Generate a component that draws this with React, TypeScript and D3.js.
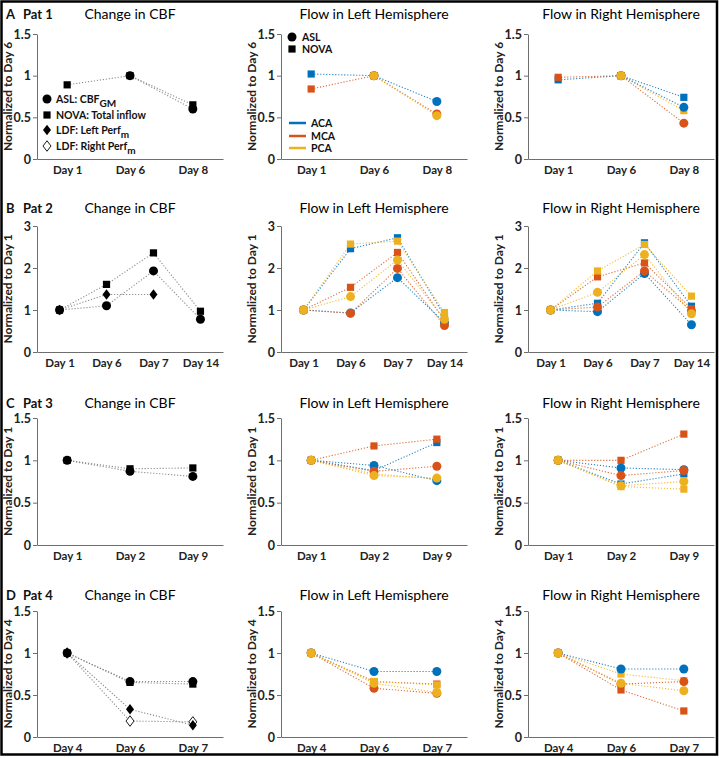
import { useEffect, useRef } from "react";
import * as d3 from "d3";

type Val = number | null;
type Marker = "circle" | "square" | "diamond" | "diamondOpen";

// vessel colours: ACA, MCA, PCA
const vesselNames = ["ACA", "MCA", "PCA"];
const vesselColors = ["#0072BD", "#D95319", "#EDB120"];

// Pat 1, normalized to Day 6
const pat1Days = ["Day 1", "Day 6", "Day 8"];
const pat1CbfNova: Val[] = [0.89, 1, 0.65];
const pat1CbfAsl: Val[] = [null, 1, 0.6];
const pat1LeftNova: Val[][] = [[1.02, 1, null], [0.84, 1, null], [null, 1, null]];
const pat1LeftAsl: Val[][] = [[null, 1, 0.69], [null, 1, 0.54], [null, 1, 0.52]];
const pat1RightNova: Val[][] = [[0.95, 1, 0.74], [0.98, 1, null], [null, 1, 0.58]];
const pat1RightAsl: Val[][] = [[null, 1, 0.62], [null, 1, 0.43], [null, 1, null]];

// Pat 2, normalized to Day 1
const pat2Days = ["Day 1", "Day 6", "Day 7", "Day 14"];
const pat2CbfNova: Val[] = [1, 1.61, 2.36, 0.97];
const pat2CbfAsl: Val[] = [1, 1.1, 1.93, 0.78];
const pat2CbfLdfLeft: Val[] = [1, 1.37, 1.37, null];
const pat2LeftNova: Val[][] = [[1, 2.46, 2.72, 0.86], [1, 1.54, 2.37, 0.75], [1, 2.57, 2.64, 0.94]];
const pat2LeftAsl: Val[][] = [[1, 0.93, 1.77, 0.7], [1, 0.92, 1.99, 0.63], [1, 1.32, 2.19, 0.78]];
const pat2RightNova: Val[][] = [[1, 1.16, 2.6, 1.09], [1, 1.79, 2.12, 1.03], [1, 1.93, 2.56, 1.33]];
const pat2RightAsl: Val[][] = [[1, 0.96, 1.87, 0.65], [1, 1.07, 1.93, 0.98], [1, 1.42, 2.32, 0.91]];

// Pat 3, normalized to Day 1
const pat3Days = ["Day 1", "Day 2", "Day 9"];
const pat3CbfNova: Val[] = [1, 0.9, 0.91];
const pat3CbfAsl: Val[] = [1, 0.87, 0.81];
const pat3LeftNova: Val[][] = [[1, 0.88, 1.21], [1, 1.17, 1.25], [1, 0.84, 0.78]];
const pat3LeftAsl: Val[][] = [[1, 0.94, 0.76], [1, 0.87, 0.93], [1, 0.82, 0.79]];
const pat3RightNova: Val[][] = [[1, 0.72, 0.84], [1, 1.0, 1.31], [1, 0.69, 0.66]];
const pat3RightAsl: Val[][] = [[1, 0.91, 0.89], [1, 0.82, 0.88], [1, 0.7, 0.75]];

// Pat 4, normalized to Day 4
const pat4Days = ["Day 4", "Day 6", "Day 7"];
const pat4CbfNova: Val[] = [1, 0.65, 0.63];
const pat4CbfAsl: Val[] = [1, 0.66, 0.66];
const pat4CbfLdfLeft: Val[] = [1, 0.33, 0.14];
const pat4CbfLdfRight: Val[] = [1, 0.19, 0.18];
const pat4LeftNova: Val[][] = [[null, null, null], [1, 0.66, 0.63], [1, 0.66, 0.62]];
const pat4LeftAsl: Val[][] = [[1, 0.78, 0.78], [1, 0.58, 0.52], [1, 0.64, 0.53]];
const pat4RightNova: Val[][] = [[null, null, null], [1, 0.56, 0.31], [1, 0.75, 0.67]];
const pat4RightAsl: Val[][] = [[1, 0.81, 0.81], [1, 0.63, 0.66], [1, 0.64, 0.55]];

const ticks15 = [0, 0.5, 1, 1.5];
const ticks3 = [0, 1, 2, 3];

interface Series {
    values: Val[];
    color: string;
    lineColor: string;
    marker: Marker;
}

interface Panel {
    row: number;
    col: number;
    title: string;
    days: string[];
    yMax: number;
    yTicks: number[];
    yLabel: string;
    series: Series[];
    tag?: [string, string];
}

const FONT = "Lato, 'Open Sans', sans-serif";

const cbfSeries = (nova: Val[], asl: Val[], ldfL?: Val[], ldfR?: Val[]): Series[] => {
    const s: Series[] = [
        { values: nova, color: "#000", lineColor: "#7a7a7a", marker: "square" },
        { values: asl, color: "#000", lineColor: "#7a7a7a", marker: "circle" },
    ];
    if (ldfL) s.push({ values: ldfL, color: "#000", lineColor: "#7a7a7a", marker: "diamond" });
    if (ldfR) s.push({ values: ldfR, color: "#000", lineColor: "#7a7a7a", marker: "diamondOpen" });
    return s;
};

const vesselSeries = (nova: Val[][], asl: Val[][]): Series[] => [
    ...nova.map((v, i) => ({ values: v, color: vesselColors[i], lineColor: vesselColors[i], marker: "square" as Marker })),
    ...asl.map((v, i) => ({ values: v, color: vesselColors[i], lineColor: vesselColors[i], marker: "circle" as Marker })),
];

const panels: Panel[] = [
    { row: 0, col: 0, title: "Change in CBF", days: pat1Days, yMax: 1.5, yTicks: ticks15, yLabel: "Normalized to Day 6", series: cbfSeries(pat1CbfNova, pat1CbfAsl), tag: ["A", "Pat 1"] },
    { row: 0, col: 1, title: "Flow in Left Hemisphere", days: pat1Days, yMax: 1.5, yTicks: ticks15, yLabel: "Normalized to Day 6", series: vesselSeries(pat1LeftNova, pat1LeftAsl) },
    { row: 0, col: 2, title: "Flow in Right Hemisphere", days: pat1Days, yMax: 1.5, yTicks: ticks15, yLabel: "Normalized to Day 6", series: vesselSeries(pat1RightNova, pat1RightAsl) },
    { row: 1, col: 0, title: "Change in CBF", days: pat2Days, yMax: 3, yTicks: ticks3, yLabel: "Normalized to Day 1", series: cbfSeries(pat2CbfNova, pat2CbfAsl, pat2CbfLdfLeft), tag: ["B", "Pat 2"] },
    { row: 1, col: 1, title: "Flow in Left Hemisphere", days: pat2Days, yMax: 3, yTicks: ticks3, yLabel: "Normalized to Day 1", series: vesselSeries(pat2LeftNova, pat2LeftAsl) },
    { row: 1, col: 2, title: "Flow in Right Hemisphere", days: pat2Days, yMax: 3, yTicks: ticks3, yLabel: "Normalized to Day 1", series: vesselSeries(pat2RightNova, pat2RightAsl) },
    { row: 2, col: 0, title: "Change in CBF", days: pat3Days, yMax: 1.5, yTicks: ticks15, yLabel: "Normalized to Day 1", series: cbfSeries(pat3CbfNova, pat3CbfAsl), tag: ["C", "Pat 3"] },
    { row: 2, col: 1, title: "Flow in Left Hemisphere", days: pat3Days, yMax: 1.5, yTicks: ticks15, yLabel: "Normalized to Day 1", series: vesselSeries(pat3LeftNova, pat3LeftAsl) },
    { row: 2, col: 2, title: "Flow in Right Hemisphere", days: pat3Days, yMax: 1.5, yTicks: ticks15, yLabel: "Normalized to Day 1", series: vesselSeries(pat3RightNova, pat3RightAsl) },
    { row: 3, col: 0, title: "Change in CBF", days: pat4Days, yMax: 1.5, yTicks: ticks15, yLabel: "Normalized to Day 4", series: cbfSeries(pat4CbfNova, pat4CbfAsl, pat4CbfLdfLeft, pat4CbfLdfRight), tag: ["D", "Pat 4"] },
    { row: 3, col: 1, title: "Flow in Left Hemisphere", days: pat4Days, yMax: 1.5, yTicks: ticks15, yLabel: "Normalized to Day 4", series: vesselSeries(pat4LeftNova, pat4LeftAsl) },
    { row: 3, col: 2, title: "Flow in Right Hemisphere", days: pat4Days, yMax: 1.5, yTicks: ticks15, yLabel: "Normalized to Day 4", series: vesselSeries(pat4RightNova, pat4RightAsl) },
];

// grid geometry
const colAxisX = [37, 281, 528];
const plotWidth = 186;
const rowTop = [34, 226, 418, 611];
const rowBottom = [159, 352, 545, 737];
const rowTitleY = [14, 208, 403, 595];

const diamondPath = (w: number, h: number) =>
    `M0,${-h / 2}L${w / 2},0L0,${h / 2}L${-w / 2},0Z`;

const drawMarker = (
    g: d3.Selection<SVGGElement, unknown, null, undefined>,
    marker: Marker,
    cx: number,
    cy: number,
    color: string
) => {
    if (marker === "circle") {
        g.append("circle").attr("cx", cx).attr("cy", cy).attr("r", 4.5).attr("fill", color);
    } else if (marker === "square") {
        g.append("rect").attr("x", cx - 3.6).attr("y", cy - 3.6).attr("width", 7.2).attr("height", 7.2).attr("fill", color);
    } else {
        g.append("path")
            .attr("d", diamondPath(8, 10.5))
            .attr("transform", `translate(${cx},${cy})`)
            .attr("fill", marker === "diamond" ? color : "#fff")
            .attr("stroke", color)
            .attr("stroke-width", marker === "diamond" ? 0 : 0.9);
    }
};

const App = () => {
    const svgRef = useRef<SVGSVGElement | null>(null);

    useEffect(() => {
        const svg = d3.select(svgRef.current);
        svg.selectAll("*").remove();

        svg.append("rect").attr("width", 719).attr("height", 758).attr("fill", "#fff");

        panels.forEach((p) => {
            const ax = colAxisX[p.col];
            const top = rowTop[p.row];
            const bottom = rowBottom[p.row];
            const g = svg.append("g").attr("font-family", FONT);

            const x = d3.scalePoint<string>().domain(p.days).range([ax, ax + plotWidth]).padding(0.48);
            const y = d3.scaleLinear().domain([0, p.yMax]).range([bottom, top]);

            // axes
            const yAxis = g
                .append("g")
                .attr("transform", `translate(${ax},0)`)
                .call(d3.axisLeft(y).tickValues(p.yTicks).tickFormat(d3.format("~g")).tickSize(4).tickSizeOuter(0).tickPadding(2));
            yAxis.selectAll("path, line").attr("stroke", "#6e6e6e");
            yAxis.selectAll("text").attr("font-size", 12.5).attr("font-weight", 700).attr("fill", "#222").attr("font-family", FONT);

            const xAxis = g
                .append("g")
                .attr("transform", `translate(0,${bottom})`)
                .call(d3.axisBottom(x).tickSize(0).tickPadding(7));
            xAxis.selectAll("path").attr("stroke", "#6e6e6e");
            xAxis.selectAll("text").attr("font-size", 11.5).attr("font-weight", 700).attr("fill", "#222").attr("font-family", FONT);

            // title and y label
            g.append("text")
                .attr("x", ax + plotWidth / 2)
                .attr("y", rowTitleY[p.row])
                .attr("dy", "0.35em")
                .attr("text-anchor", "middle")
                .attr("font-size", 14)
                .attr("fill", "#000")
                .text(p.title);

            if (p.tag) {
                g.append("text").attr("x", 6).attr("y", rowTitleY[p.row]).attr("dy", "0.35em")
                    .attr("font-size", 13).attr("font-weight", 700).attr("fill", "#111").text(p.tag[0]);
                g.append("text").attr("x", 23).attr("y", rowTitleY[p.row]).attr("dy", "0.35em")
                    .attr("font-size", 13).attr("font-weight", 700).attr("fill", "#111").text(p.tag[1]);
            }

            g.append("text")
                .attr("transform", `translate(${ax - 29},${(top + bottom) / 2}) rotate(-90)`)
                .attr("text-anchor", "middle")
                .attr("dy", "0.35em")
                .attr("font-size", 12)
                .attr("font-weight", 700)
                .attr("fill", "#222")
                .text(p.yLabel);

            // dotted connecting lines
            const line = d3
                .line<Val>()
                .defined((d) => d !== null)
                .x((_, i) => x(p.days[i]) as number)
                .y((d) => y(d as number));

            p.series.forEach((s) => {
                g.append("path")
                    .attr("d", line(s.values))
                    .attr("fill", "none")
                    .attr("stroke", s.lineColor)
                    .attr("stroke-width", 1.1)
                    .attr("stroke-dasharray", "1.2,1.8")
                    .attr("opacity", 0.85);
            });

            // markers: diamonds and squares first, circles on top
            const order: Marker[] = ["diamondOpen", "diamond", "square", "circle"];
            order.forEach((m) => {
                p.series
                    .filter((s) => s.marker === m)
                    .forEach((s) => {
                        s.values.forEach((v, i) => {
                            if (v === null) return;
                            drawMarker(g, m, x(p.days[i]) as number, y(v), s.color);
                        });
                    });
            });
        });

        // legend: Change in CBF (Pat 1)
        const leg1 = svg.append("g").attr("font-family", FONT).attr("font-size", 10.5).attr("font-weight", 700).attr("fill", "#111");
        const leg1Items: [Marker, string, string][] = [
            ["circle", "ASL: CBF", "GM"],
            ["square", "NOVA: Total inflow", ""],
            ["diamond", "LDF: Left Perf", "m"],
            ["diamondOpen", "LDF: Right Perf", "m"],
        ];
        const leg1Y = [99, 115, 130, 146];
        leg1Items.forEach(([m, label, sub], i) => {
            drawMarker(leg1, m, 47, leg1Y[i], "#000");
            const t = leg1.append("text").attr("x", 56).attr("y", leg1Y[i]).attr("dy", "0.35em").text(label);
            if (sub) t.append("tspan").attr("dy", 4).attr("font-size", 10).text(sub);
        });

        // legend: Flow in Left Hemisphere (Pat 1)
        const leg2 = svg.append("g").attr("font-family", FONT).attr("font-size", 10.5).attr("font-weight", 700).attr("fill", "#111");
        drawMarker(leg2, "circle", 292, 37, "#000");
        leg2.append("text").attr("x", 302).attr("y", 37).attr("dy", "0.35em").text("ASL");
        drawMarker(leg2, "square", 292, 49, "#000");
        leg2.append("text").attr("x", 302).attr("y", 49).attr("dy", "0.35em").text("NOVA");
        const leg2Y = [123, 136, 148];
        vesselNames.forEach((name, i) => {
            leg2.append("line").attr("x1", 289).attr("x2", 306).attr("y1", leg2Y[i]).attr("y2", leg2Y[i])
                .attr("stroke", vesselColors[i]).attr("stroke-width", 2.5);
            leg2.append("text").attr("x", 311).attr("y", leg2Y[i]).attr("dy", "0.35em").text(name);
        });

        // outer frame
        svg.append("rect").attr("x", 1.5).attr("y", 1.5).attr("width", 715.5).attr("height", 753)
            .attr("fill", "none").attr("stroke", "#000").attr("stroke-width", 2.5);
    }, []);

    return (
        <svg
            ref={svgRef}
            width={719}
            height={758}
            style={{ position: "absolute", left: 0, top: 0, display: "block" }}
        />
    );
};

export default App;
